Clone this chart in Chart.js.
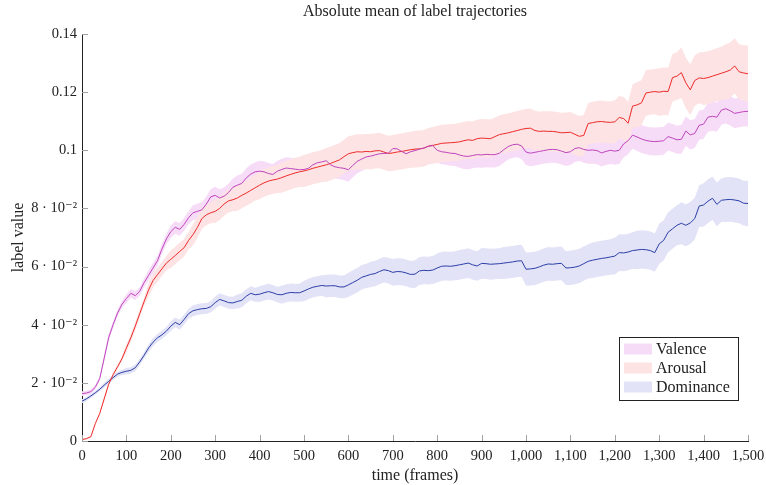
<!DOCTYPE html>
<html>
<head>
<meta charset="utf-8">
<script src="https://cdn.jsdelivr.net/npm/chart.js@4.4.1/dist/chart.umd.min.js"></script>
<style>
  html, body { margin: 0; padding: 0; background: #fff; }
  #wrap { width: 766px; height: 485px; }
</style>
</head>
<body>
<div id="wrap"><canvas id="c" width="766" height="485"></canvas></div>
<script>
// Frames sampled every 10 steps, 0..1500
const FRAME_STEP = 10;
const frames = Array.from({ length: 151 }, (_, i) => i * FRAME_STEP);

// Absolute mean label value per frame
const valence = [
  0.0163, 0.0165, 0.0170, 0.0185, 0.0215, 0.0285, 0.0355, 0.0400, 0.0440, 0.0470,
  0.0490, 0.0508, 0.0500, 0.0515, 0.0545, 0.0570, 0.0595, 0.0620, 0.0660, 0.0695,
  0.0720, 0.0735, 0.0728, 0.0745, 0.0768, 0.0785, 0.0790, 0.0795, 0.0815, 0.0840,
  0.0845, 0.0836, 0.0842, 0.0855, 0.0873, 0.0880, 0.0886, 0.0905, 0.0918, 0.0926,
  0.0928, 0.0926, 0.0920, 0.0917, 0.0928, 0.0934, 0.0939, 0.0937, 0.0935, 0.0933,
  0.0934, 0.0938, 0.0950, 0.0957, 0.0960, 0.0964, 0.0950, 0.0943, 0.0940, 0.0938,
  0.0933, 0.0948, 0.0962, 0.0970, 0.0977, 0.0980, 0.0984, 0.0988, 0.0989, 0.0990,
  0.1006, 0.1005, 0.0996, 0.0988, 0.0995, 0.0999, 0.1004, 0.1008, 0.1014, 0.1016,
  0.1000, 0.0995, 0.0993, 0.0990, 0.0989, 0.0984, 0.0980, 0.0979, 0.0982, 0.0985,
  0.0984, 0.0986, 0.0985, 0.0985, 0.0990, 0.1002, 0.1013, 0.1019, 0.1021, 0.1015,
  0.0994, 0.0990, 0.0993, 0.0996, 0.0999, 0.1002, 0.1003, 0.1002, 0.0997, 0.0992,
  0.0995, 0.1006, 0.1009, 0.1003, 0.1000, 0.1001, 0.0999, 0.0991, 0.0996, 0.1000,
  0.0997, 0.1000, 0.1022, 0.1033, 0.1052, 0.1046, 0.1039, 0.1034, 0.1031, 0.1030,
  0.1031, 0.1033, 0.1047, 0.1042, 0.1036, 0.1038, 0.1066, 0.1053, 0.1058, 0.1086,
  0.1090, 0.1114, 0.1117, 0.1114, 0.1138, 0.1143, 0.1136, 0.1127, 0.1130, 0.1133,
  0.1134
];

const arousal = [
  0.0005, 0.0008, 0.0015, 0.0060, 0.0095, 0.0145, 0.0195, 0.0228, 0.0255, 0.0283,
  0.0320, 0.0355, 0.0395, 0.0438, 0.0480, 0.0520, 0.0552, 0.0572, 0.0592, 0.0612,
  0.0625, 0.0638, 0.0652, 0.0665, 0.0690, 0.0710, 0.0735, 0.0765, 0.0778, 0.0785,
  0.0790, 0.0800, 0.0815, 0.0826, 0.0830, 0.0836, 0.0845, 0.0853, 0.0862, 0.0871,
  0.0880, 0.0888, 0.0894, 0.0898, 0.0901, 0.0906, 0.0912, 0.0917, 0.0922, 0.0926,
  0.0929, 0.0933, 0.0938, 0.0942, 0.0946, 0.0950, 0.0955, 0.0961, 0.0967, 0.0978,
  0.0988, 0.0992, 0.0995, 0.0994, 0.0996, 0.0995, 0.0998, 0.0999, 0.0994, 0.0989,
  0.0991, 0.0994, 0.0996, 0.0999, 0.1002, 0.1004, 0.1005, 0.1007, 0.1014, 0.1017,
  0.1020, 0.1024, 0.1025, 0.1026, 0.1027, 0.1029, 0.1033, 0.1036, 0.1034, 0.1040,
  0.1042, 0.1041, 0.1040, 0.1047, 0.1054, 0.1057, 0.1060, 0.1064, 0.1068, 0.1072,
  0.1075, 0.1076, 0.1068, 0.1065, 0.1066, 0.1065, 0.1065, 0.1063, 0.1060, 0.1061,
  0.1062, 0.1055, 0.1048, 0.1051, 0.1092, 0.1095, 0.1098, 0.1099, 0.1097, 0.1096,
  0.1098, 0.1113, 0.1109, 0.1093, 0.1152, 0.1156, 0.1163, 0.1197, 0.1200, 0.1202,
  0.1200, 0.1203, 0.1202, 0.1250, 0.1255, 0.1267, 0.1232, 0.1208, 0.1240, 0.1249,
  0.1247, 0.1250, 0.1255, 0.1260, 0.1265, 0.1270, 0.1276, 0.1290, 0.1270, 0.1266,
  0.1263
];

const dominance = [
  0.0137, 0.0145, 0.0155, 0.0166, 0.0178, 0.0192, 0.0205, 0.0218, 0.0230, 0.0236,
  0.0240, 0.0243, 0.0252, 0.0272, 0.0295, 0.0320, 0.0340, 0.0355, 0.0365, 0.0378,
  0.0395, 0.0408, 0.0400, 0.0418, 0.0438, 0.0448, 0.0452, 0.0455, 0.0456, 0.0462,
  0.0476, 0.0487, 0.0482, 0.0476, 0.0475, 0.0480, 0.0484, 0.0498, 0.0508, 0.0503,
  0.0505, 0.0510, 0.0514, 0.0510, 0.0504, 0.0503, 0.0508, 0.0511, 0.0510, 0.0510,
  0.0516, 0.0523, 0.0529, 0.0532, 0.0535, 0.0533, 0.0534, 0.0534, 0.0530, 0.0530,
  0.0537, 0.0545, 0.0553, 0.0563, 0.0568, 0.0573, 0.0576, 0.0583, 0.0589, 0.0586,
  0.0580, 0.0583, 0.0582, 0.0578, 0.0573, 0.0574, 0.0585, 0.0587, 0.0586, 0.0588,
  0.0595, 0.0601, 0.0602, 0.0601, 0.0603, 0.0606, 0.0609, 0.0612, 0.0606, 0.0602,
  0.0611, 0.0610, 0.0608, 0.0609, 0.0610, 0.0612, 0.0614, 0.0616, 0.0619, 0.0620,
  0.0591, 0.0592, 0.0594, 0.0599, 0.0605, 0.0609, 0.0608, 0.0610, 0.0611, 0.0595,
  0.0596, 0.0598, 0.0602, 0.0610, 0.0618, 0.0622, 0.0625, 0.0628, 0.0630, 0.0633,
  0.0636, 0.0648, 0.0647, 0.0650, 0.0655, 0.0657, 0.0659, 0.0658, 0.0655, 0.0648,
  0.0678, 0.0690, 0.0718, 0.0730, 0.0742, 0.0749, 0.0742, 0.0750, 0.0765, 0.0808,
  0.0812, 0.0825, 0.0835, 0.0814, 0.0828, 0.0830, 0.0831, 0.0829, 0.0826, 0.0818,
  0.0817
];

// Half-width of the spread band, one value per 50-frame block (0..1500)
const BAND_STEP = 50;
const valenceSpread = [
  0.0008, 0.0012, 0.0015, 0.0018, 0.0022, 0.0026, 0.0030, 0.0033, 0.0036, 0.0037,
  0.0039, 0.0040, 0.0041, 0.0042, 0.0042, 0.0043, 0.0043, 0.0044, 0.0044, 0.0045,
  0.0045, 0.0046, 0.0046, 0.0047, 0.0047, 0.0048, 0.0048, 0.0050, 0.0050, 0.0051,
  0.0051
];
const arousalSpread = [
  0.0003, 0.0008, 0.0014, 0.0024, 0.0030, 0.0036, 0.0040, 0.0044, 0.0048, 0.0052,
  0.0055, 0.0058, 0.0060, 0.0061, 0.0062, 0.0063, 0.0064, 0.0065, 0.0066, 0.0067,
  0.0068, 0.0069, 0.0070, 0.0072, 0.0074, 0.0078, 0.0082, 0.0087, 0.0091, 0.0095,
  0.0098
];
const dominanceSpread = [
  0.0007, 0.0009, 0.0011, 0.0014, 0.0017, 0.0019, 0.0021, 0.0024, 0.0027, 0.0031,
  0.0035, 0.0039, 0.0042, 0.0044, 0.0046, 0.0048, 0.0050, 0.0051, 0.0053, 0.0055,
  0.0057, 0.0058, 0.0059, 0.0061, 0.0063, 0.0066, 0.0069, 0.0072, 0.0075, 0.0077,
  0.0078
];

const seriesNames = ['Valence', 'Arousal', 'Dominance'];
const yTickLabels = ['0', '2 \u00b7 10\u207b\u00b2', '4 \u00b7 10\u207b\u00b2', '6 \u00b7 10\u207b\u00b2',
                     '8 \u00b7 10\u207b\u00b2', '0.1', '0.12', '0.14'];

const lineColors = ['#bf45bf', '#ef2a2a', '#2b3fa6'];
const bandColors = ['#f7dcf7', '#fde3e3', '#e3e3f7'];

const FONT = "'Liberation Serif', 'DejaVu Serif', serif";
const TEXT_SIZE = 16;
const TICK_SIZE = 14.5;
const INK = '#222';

function pts(values) {
  return values.map((v, i) => ({ x: frames[i], y: v }));
}
function bandPts(values, spread, sign) {
  return values.map((v, i) => ({
    x: frames[i],
    y: v + sign * spread[Math.floor(frames[i] / BAND_STEP)]
  }));
}

const allValues = [valence, arousal, dominance];
const allSpread = [valenceSpread, arousalSpread, dominanceSpread];

const datasets = [];
// mean lines, drawn above every band
allValues.forEach((vals, k) => {
  datasets.push({
    label: seriesNames[k],
    data: pts(vals),
    borderColor: lineColors[k],
    borderWidth: 1,
    pointRadius: 0,
    fill: false,
    order: 0
  });
});
// bands: the upper edge fills down to the lower edge that follows it
allValues.forEach((vals, k) => {
  datasets.push({
    label: seriesNames[k] + ' upper',
    data: bandPts(vals, allSpread[k], +1),
    borderWidth: 0,
    borderColor: 'rgba(0,0,0,0)',
    backgroundColor: bandColors[k],
    pointRadius: 0,
    fill: '+1',
    order: 3 - k
  });
  datasets.push({
    label: seriesNames[k] + ' lower',
    data: bandPts(vals, allSpread[k], -1),
    borderWidth: 0,
    borderColor: 'rgba(0,0,0,0)',
    pointRadius: 0,
    fill: false,
    order: 3 - k
  });
});

// Short inward tick marks on both axes
const innerTicks = {
  id: 'innerTicks',
  afterDraw(chart) {
    const { ctx, chartArea, scales } = chart;
    ctx.save();
    ctx.strokeStyle = '#a0a0a0';
    ctx.lineWidth = 1;
    scales.x.ticks.forEach(t => {
      const px = Math.round(scales.x.getPixelForValue(t.value)) + 0.5;
      ctx.beginPath();
      ctx.moveTo(px, chartArea.bottom);
      ctx.lineTo(px, chartArea.bottom - 6);
      ctx.stroke();
    });
    scales.y.ticks.forEach(t => {
      const py = Math.round(scales.y.getPixelForValue(t.value)) + 0.5;
      ctx.beginPath();
      ctx.moveTo(chartArea.left, py);
      ctx.lineTo(chartArea.left + 6, py);
      ctx.stroke();
    });
    ctx.restore();
  }
};

// Boxed legend in the lower right of the plot, showing band colours
const bandLegend = {
  id: 'bandLegend',
  afterDraw(chart) {
    const { ctx, chartArea } = chart;
    const w = 119, h = 63;
    const x0 = Math.round(chartArea.right - 10 - w);
    const y0 = Math.round(chartArea.bottom - 41 - h);
    ctx.save();
    ctx.fillStyle = '#fff';
    ctx.fillRect(x0, y0, w, h);
    ctx.strokeStyle = INK;
    ctx.lineWidth = 1;
    ctx.strokeRect(x0 + 0.5, y0 + 0.5, w, h);
    ctx.font = TEXT_SIZE + 'px ' + FONT;
    ctx.textBaseline = 'middle';
    seriesNames.forEach((name, k) => {
      const cy = y0 + 12 + k * 19;
      ctx.fillStyle = bandColors[k];
      ctx.fillRect(x0 + 5, cy - 5.5, 28, 11);
      ctx.fillStyle = INK;
      ctx.fillText(name, x0 + 37, cy + 0.5);
    });
    ctx.restore();
  }
};

// Plot title, centred over the plot area
const plotTitle = {
  id: 'plotTitle',
  afterDraw(chart) {
    const { ctx, chartArea } = chart;
    ctx.save();
    ctx.font = TEXT_SIZE + 'px ' + FONT;
    ctx.fillStyle = INK;
    ctx.textAlign = 'center';
    ctx.textBaseline = 'middle';
    ctx.fillText('Absolute mean of label trajectories', (chartArea.left + chartArea.right) / 2, 12);
    ctx.restore();
  }
};

new Chart(document.getElementById('c'), {
  type: 'line',
  data: { datasets },
  plugins: [innerTicks, bandLegend, plotTitle],
  options: {
    responsive: false,
    animation: false,
    layout: { padding: { top: 34, right: 18, left: 0, bottom: 0 } },
    plugins: {
      legend: { display: false },
      tooltip: { enabled: false },
      filler: { propagate: false }
    },
    elements: { line: { tension: 0 } },
    scales: {
      x: {
        type: 'linear',
        min: 0,
        max: 1500,
        grid: { drawOnChartArea: false, drawTicks: false },
        border: { display: true, color: INK, width: 1 },
        ticks: {
          stepSize: 100,
          padding: 6,
          color: INK,
          font: { family: FONT, size: TICK_SIZE },
          maxRotation: 0,
          callback: v => v.toLocaleString('en-US')
        },
        title: {
          display: true,
          text: 'time (frames)',
          color: INK,
          font: { family: FONT, size: TEXT_SIZE },
          padding: { top: 7, bottom: 0 }
        },
        afterFit: s => { s.height = 44; s.paddingLeft = 0; s.paddingRight = 0; }
      },
      y: {
        min: 0,
        max: 0.14,
        grid: { drawOnChartArea: false, drawTicks: false },
        border: { display: true, color: INK, width: 1 },
        ticks: {
          stepSize: 0.02,
          padding: 5,
          color: INK,
          font: { family: FONT, size: TICK_SIZE },
          callback: v => yTickLabels[Math.round(v / 0.02)]
        },
        title: {
          display: true,
          text: 'label value',
          color: INK,
          font: { family: FONT, size: TEXT_SIZE },
          padding: { top: 9, bottom: 4 }
        },
        afterFit: s => { s.width = 82; s.paddingTop = 0; s.paddingBottom = 0; }
      }
    }
  }
});
</script>
</body>
</html>
